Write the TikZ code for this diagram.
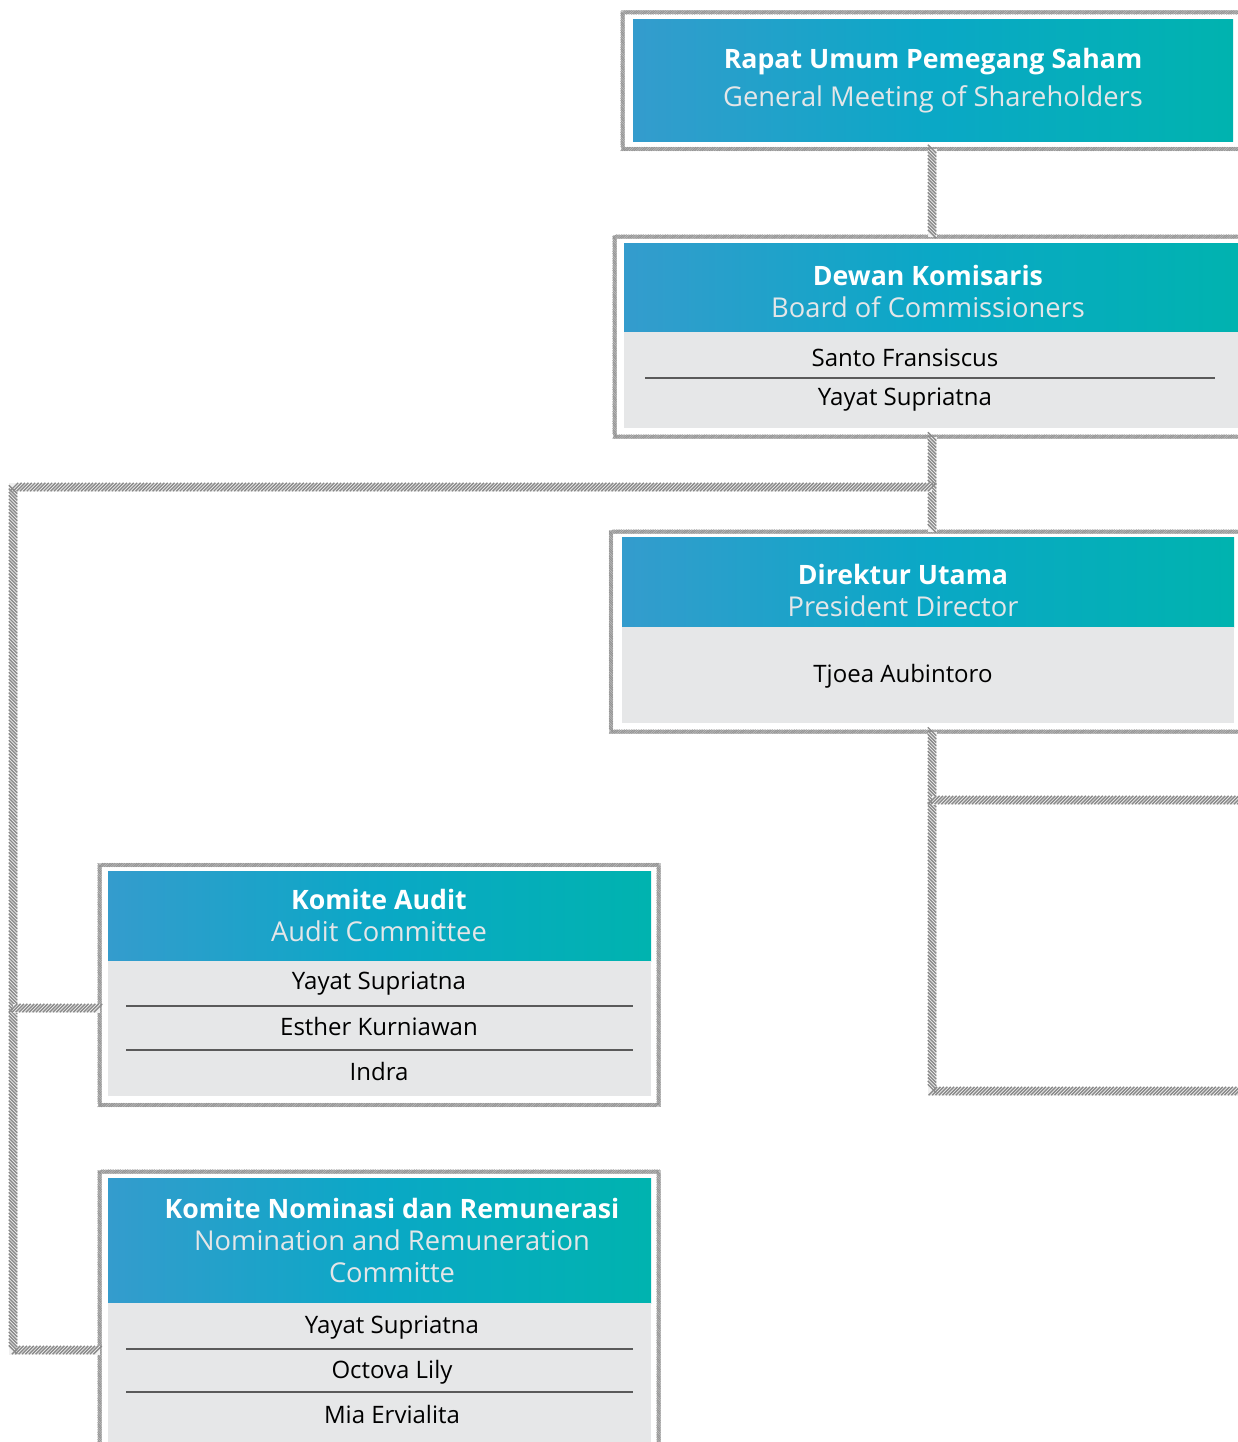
\documentclass[tikz,border=0pt]{standalone}
\usepackage{fontspec}
\setmainfont{Open Sans}
\usetikzlibrary{decorations.markings}
\definecolor{cA}{HTML}{349CCD}
\definecolor{cB}{HTML}{0AA8C6}
\definecolor{cC}{HTML}{00B3AF}
\definecolor{bodyg}{HTML}{E6E7E8}
\definecolor{subg}{HTML}{E4E6E8}
\definecolor{hatchg}{HTML}{8A8A8A}
\definecolor{sepg}{HTML}{5A5A5A}
\tikzset{
  conn/.style={line width=9pt, draw=gray!12,
    postaction={decorate, decoration={markings,
      mark=between positions 0 and 1 step 3.4pt with {\draw[hatchg, line width=1.4pt] (-4.2pt,-4.2pt)--(4.2pt,4.2pt);}}}},
  frame/.style={rectangle, draw=gray!45, line width=4pt, inner sep=0pt, outer sep=0pt,
    postaction={decorate, decoration={markings,
      mark=between positions 0 and 1 step 1.7pt with {\draw[gray!88, line width=0.6pt] (-2pt,-2pt)--(2pt,2pt);}}}},
  hdr/.style={rectangle, inner sep=0pt, outer sep=0pt, draw=none, left color=cA, right color=cC, middle color=cB},
  bodybox/.style={rectangle, inner sep=0pt, outer sep=0pt, draw=none, fill=bodyg},
  ttl/.style={anchor=base, inner sep=0pt, text=white, font=\bfseries\fontsize{26.7}{30}\selectfont},
  sub/.style={anchor=base, inner sep=0pt, text=subg, font=\fontsize{27.3}{30}\selectfont},
  nm/.style={anchor=base, inner sep=0pt, text=black, font=\fontsize{24}{28}\selectfont},
  sepline/.style={draw=sepg, line width=1.4pt}
}
\begin{document}
\begin{tikzpicture}[x=1pt, y=-1pt]
\useasboundingbox (0,0) rectangle (1237,1442);

% frames
\node[frame, minimum width=637.5pt, minimum height=136.5pt] (f1) at (941.25,80.75) {};
\node[frame, minimum width=645.5pt, minimum height=200pt] (f2) at (937.25,336.5) {};
\node[frame, minimum width=649pt, minimum height=200pt] (f3) at (935.5,631.5) {};
\node[frame, minimum width=559pt, minimum height=240pt] (f4) at (379,985) {};
\node[frame, minimum width=559pt, minimum height=288.5pt] (f5) at (379,1315.75) {};

% connectors
\coordinate (spine) at (932,0);
\coordinate (j1) at (932,487);
\coordinate (lb) at (13,487);
\coordinate (t4) at (100,1008);
\coordinate (t5) at (100,1350);
\coordinate (r1) at (1260,800);
\coordinate (r2) at (1260,1091);
\draw[conn] (spine |- f1.south) -- (spine |- f2.north);
\draw[conn] (spine |- f2.south) -- (spine |- f3.north);
\draw[conn] (j1) -- (lb) -- (lb |- t5) -- (t5);
\draw[conn] (lb |- t4) -- (t4);
\draw[conn] (spine |- f3.south) -- (spine |- r2) -- (r2);
\draw[conn] (spine |- r1) -- (r1);

% box 1
\node[hdr, minimum width=600pt, minimum height=122pt] (h1) at (933,81) {};
\node[ttl] (t1a) at (933,68.5) {Rapat Umum Pemegang Saham};
\node[sub] (t1b) at (933,106.5) {General Meeting of Shareholders};

% box 2
\node[hdr, minimum width=621pt, minimum height=89pt] (h2) at (934.5,287.5) {};
\node[bodybox, minimum width=621pt, minimum height=96pt] (b2) at (934.5,380) {};
\node[ttl] (t2a) at (928,285.5) {Dewan Komisaris};
\node[sub] (t2b) at (928,317.5) {Board of Commissioners};
\node[nm] (n2a) at (905,366.5) {Santo Fransiscus};
\draw[sepline] (645,378) -- (1215,378);
\node[nm] (n2b) at (905,405.5) {Yayat Supriatna};

% box 3
\node[hdr, minimum width=612pt, minimum height=90pt] (h3) at (928,582) {};
\node[bodybox, minimum width=612pt, minimum height=96pt] (b3) at (928,675) {};
\node[ttl] (t3a) at (903,584.5) {Direktur Utama};
\node[sub] (t3b) at (903,616.5) {President Director};
\node[nm] (n3a) at (903,682.5) {Tjoea Aubintoro};

% box 4
\node[hdr, minimum width=543pt, minimum height=90pt] (h4) at (379.5,916) {};
\node[bodybox, minimum width=543pt, minimum height=135pt] (b4) at (379.5,1028.5) {};
\node[ttl] (t4a) at (379,909.5) {Komite Audit};
\node[sub] (t4b) at (379,941.5) {Audit Committee};
\node[nm] (n4a) at (379,989.5) {Yayat Supriatna};
\draw[sepline] (126,1006) -- (633,1006);
\node[nm] (n4b) at (379,1035.5) {Esther Kurniawan};
\draw[sepline] (126,1050) -- (633,1050);
\node[nm] (n4c) at (379,1080.5) {Indra};

% box 5
\node[hdr, minimum width=543pt, minimum height=125pt] (h5) at (379.5,1240.5) {};
\node[bodybox, minimum width=543pt, minimum height=157pt] (b5) at (379.5,1381.5) {};
\node[ttl] (t5a) at (392,1218.5) {Komite Nominasi dan Remunerasi};
\node[sub] (t5b) at (392,1250.5) {Nomination and Remuneration};
\node[sub] (t5c) at (392,1282.5) {Committe};
\node[nm] (n5a) at (392,1333.5) {Yayat Supriatna};
\draw[sepline] (126,1349) -- (633,1349);
\node[nm] (n5b) at (392,1378.5) {Octova Lily};
\draw[sepline] (126,1392) -- (633,1392);
\node[nm] (n5c) at (392,1423.5) {Mia Ervialita};
\end{tikzpicture}
\end{document}
